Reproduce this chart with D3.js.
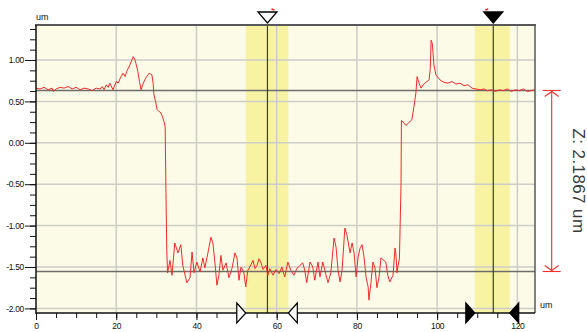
<!DOCTYPE html>
<html><head><meta charset="utf-8">
<script src="https://cdn.jsdelivr.net/npm/d3@7"></script>
<style>
html,body{margin:0;padding:0;background:#fff;}
svg{display:block;font-family:"Liberation Sans",Arial,sans-serif;}
</style></head><body>
<svg id="chart" width="587" height="332"></svg>
<script>
// Height profile along the scan line: [position (um), height (um)]
const profile = [
  [0,0.66],[1,0.65],[2,0.67],[3,0.64],[4,0.66],[4.3,0.62],[5,0.65],[6,0.67],[7,0.66],[8,0.68],
  [9,0.65],[10,0.67],[11,0.64],[12,0.66],[13,0.65],[14,0.63],[15,0.66],[16,0.65],[16.5,0.68],
  [17,0.64],[17.5,0.70],[18,0.67],[18.4,0.72],[19.2,0.64],[20,0.74],[20.5,0.72],[21,0.78],
  [21.7,0.84],[22.2,0.80],[22.6,0.86],[23.4,0.94],[23.9,1.00],[24.2,1.04],[24.6,1.01],[24.9,0.96],
  [25.4,0.86],[25.8,0.74],[26.2,0.64],[26.6,0.70],[27.1,0.76],[27.6,0.80],[28.2,0.84],[28.6,0.83],
  [28.9,0.82],[29.2,0.72],[29.4,0.58],[29.8,0.50],[30.2,0.40],[30.6,0.38],[31.0,0.37],[31.5,0.32],
  [32.0,0.24],[32.2,0.19],[32.4,-0.6],[32.6,-1.3],[32.8,-1.57],[33.4,-1.42],[33.9,-1.60],[34.6,-1.21],
  [35.4,-1.33],[36.1,-1.23],[36.6,-1.48],[37.6,-1.69],[38.4,-1.63],[38.9,-1.32],[39.4,-1.57],
  [40.1,-1.44],[40.9,-1.56],[41.6,-1.39],[42.1,-1.51],[42.9,-1.32],[43.6,-1.14],[44.1,-1.21],
  [44.6,-1.44],[45.1,-1.72],[45.6,-1.60],[46.1,-1.36],[46.6,-1.54],[47.4,-1.45],[48.1,-1.63],
  [48.9,-1.51],[49.6,-1.33],[50.1,-1.39],[50.6,-1.66],[51.1,-1.50],[51.8,-1.56],[52.3,-1.74],
  [52.8,-1.54],[53.3,-1.50],[54.1,-1.42],[54.6,-1.52],[55.1,-1.48],[55.6,-1.40],[56.1,-1.45],
  [56.6,-1.53],[57.3,-1.48],[57.8,-1.60],[58.3,-1.52],[59.1,-1.60],[59.8,-1.53],[60.6,-1.58],
  [61.3,-1.50],[62.0,-1.62],[62.8,-1.44],[63.5,-1.54],[64.3,-1.60],[65.0,-1.52],[65.8,-1.48],
  [66.5,-1.45],[67.0,-1.54],[67.5,-1.69],[68.3,-1.44],[69.0,-1.50],[69.5,-1.66],[70.3,-1.44],
  [70.8,-1.62],[71.5,-1.44],[72.0,-1.54],[72.8,-1.69],[73.5,-1.57],[74.3,-1.15],[74.8,-1.26],
  [75.3,-1.54],[75.8,-1.68],[76.3,-1.54],[77.0,-1.03],[77.5,-1.11],[78.3,-1.33],[78.8,-1.21],
  [79.3,-1.33],[79.8,-1.62],[80.3,-1.38],[80.8,-1.27],[81.3,-1.23],[81.8,-1.39],[82.3,-1.63],
  [82.8,-1.74],[83.0,-1.90],[83.5,-1.69],[84.0,-1.44],[84.5,-1.51],[85.0,-1.75],[85.5,-1.63],
  [86.0,-1.39],[86.7,-1.42],[87.2,-1.44],[87.7,-1.60],[88.2,-1.68],[89.0,-1.60],[89.5,-1.27],
  [89.7,-1.33],[90.0,-1.57],[90.2,-1.50],[90.6,-1.40],[91.0,-0.5],[91.1,0.27],[91.7,0.24],
  [92.2,0.21],[92.9,0.24],[93.7,0.28],[94.2,0.43],[94.7,0.60],[95.0,0.80],[95.5,0.72],[96.0,0.66],
  [96.5,0.70],[97.2,0.73],[98.0,0.76],[98.3,0.90],[98.5,1.24],[98.8,1.20],[99.2,0.94],[99.7,0.82],
  [100.7,0.76],[101.7,0.73],[102.7,0.72],[103.7,0.74],[104.7,0.71],[105.7,0.72],[106.7,0.69],
  [107.7,0.70],[108.7,0.66],[109.7,0.65],[110.7,0.64],[111.7,0.65],[112.5,0.63],[113.5,0.64],
  [114.5,0.62],[115.5,0.64],[116.5,0.63],[117.5,0.65],[118.5,0.62],[119.5,0.64],[120.5,0.63],
  [121.5,0.65],[122.5,0.62],[123.5,0.63],[124.3,0.64]
];

const xMajorTicks = [0, 20, 40, 60, 80, 100, 120];
const yMajorTicks = [1.0, 0.5, 0.0, -0.5, -1.0, -1.5, -2.0];
const xMinorStep = 5;
const yMinorStep = 0.125;

// measurement windows (um) and their cursors
const windowStart = [52.3, 109.4];
const windowEnd   = [62.9, 118.1];
const cursorPos   = [57.7, 114.0];
const cursorFilled = [false, true];

// reference levels and measured step height
const upperLevel = 0.638;
const stepHeight = 2.1867;
const lowerLevel = upperLevel - stepHeight;
const unitLabel = "um";

const L = 36, R = 535, T = 25, B = 313;

const x = d3.scaleLinear().domain([0, 124.4]).range([L, R]);
const y = d3.scaleLinear().domain([-2.0556, 1.4227]).range([B, T]);

const svg = d3.select("#chart");

// plot background
svg.append("rect").attr("x", L).attr("y", T).attr("width", R - L).attr("height", B - T)
  .attr("fill", "#fbfbe7");

// measurement windows
svg.append("g").selectAll("rect").data(windowStart).join("rect")
  .attr("x", (d) => x(d))
  .attr("y", T)
  .attr("width", (d, i) => x(windowEnd[i]) - x(d))
  .attr("height", B - T)
  .attr("fill", "#f8f3a2");

// grid
const grid = svg.append("g").attr("stroke", "#cdcdc8").attr("stroke-width", 1.5);
grid.selectAll("line.v").data(xMajorTicks.filter(d => d > 0)).join("line").attr("class", "v")
  .attr("x1", d => x(d)).attr("x2", d => x(d)).attr("y1", T).attr("y2", B);
grid.selectAll("line.h").data(yMajorTicks).join("line").attr("class", "h")
  .attr("x1", L).attr("x2", R).attr("y1", d => y(d)).attr("y2", d => y(d));

// reference levels
svg.append("g").selectAll("line").data([upperLevel, lowerLevel]).join("line")
  .attr("x1", L).attr("x2", R)
  .attr("y1", d => Math.round(y(d)) + 0.5).attr("y2", d => Math.round(y(d)) + 0.5)
  .attr("stroke", "#6e6e6e").attr("stroke-width", 1.3);

// cursors
svg.append("g").selectAll("line").data(cursorPos).join("line")
  .attr("x1", d => x(d)).attr("x2", d => x(d)).attr("y1", T).attr("y2", B)
  .attr("stroke", "#3c3c3c").attr("stroke-width", 1.2);

// profile
const line = d3.line().x(d => x(d[0])).y(d => y(d[1]));
svg.append("path").datum(profile)
  .attr("d", line)
  .attr("fill", "none")
  .attr("stroke", "#f22a2a")
  .attr("stroke-width", 1)
  .attr("stroke-linejoin", "round");

// axes
const xMinor = d3.range(0, 124, xMinorStep);
const yMinor = d3.range(-2, 1.42, yMinorStep);

const xAxisMinor = d3.axisBottom(x).tickValues(xMinor).tickSize(5).tickFormat("");
const xAxis = d3.axisBottom(x).tickValues(xMajorTicks).tickSize(7).tickPadding(3)
  .tickFormat(d => String(d));
const yAxisMinor = d3.axisLeft(y).tickValues(yMinor).tickSize(6).tickFormat("");
const yAxis = d3.axisLeft(y).tickValues(yMajorTicks).tickSize(11).tickPadding(1)
  .tickFormat(d => d.toFixed(2));

function styleAxis(g) {
  g.select(".domain").remove();
  g.selectAll(".tick line").attr("stroke", "#111");
  g.selectAll(".tick text").attr("fill", "#111").attr("font-size", "8.5px")
    .attr("font-family", "Liberation Sans, Arial, sans-serif").attr("letter-spacing", "-0.3");
}
svg.append("g").attr("transform", `translate(0,${B})`).call(xAxisMinor).call(styleAxis);
svg.append("g").attr("transform", `translate(0,${B})`).call(xAxis).call(styleAxis);
svg.append("g").attr("transform", `translate(${L},0)`).call(yAxisMinor).call(styleAxis);
svg.append("g").attr("transform", `translate(${L},0)`).call(yAxis).call(styleAxis);

// frame
svg.append("line").attr("x1", L - 1).attr("x2", R + 1).attr("y1", T).attr("y2", T)
  .attr("stroke", "#585858").attr("stroke-width", 2);
svg.append("line").attr("x1", R).attr("x2", R).attr("y1", T).attr("y2", B)
  .attr("stroke", "#585858").attr("stroke-width", 1.5);
svg.append("line").attr("x1", L).attr("x2", L).attr("y1", T).attr("y2", B + 1)
  .attr("stroke", "#111").attr("stroke-width", 1.5);
svg.append("line").attr("x1", L).attr("x2", R).attr("y1", B).attr("y2", B)
  .attr("stroke", "#111").attr("stroke-width", 1.5);

// unit labels
svg.append("text").attr("x", L).attr("y", 20).text(unitLabel)
  .attr("font-size", "9px").attr("fill", "#111");
svg.append("text").attr("x", R + 5).attr("y", 308).text(unitLabel)
  .attr("font-size", "9px").attr("fill", "#111");

// cursor markers above the plot
const cursorMarks = svg.append("g");
cursorPos.forEach((c, i) => {
  const cx = x(c);
  cursorMarks.append("path")
    .attr("d", `M${cx - 9.5},12 L${cx + 9.5},12 L${cx},23 Z`)
    .attr("fill", cursorFilled[i] ? "#000" : "#fff")
    .attr("stroke", "#000").attr("stroke-width", 1.3).attr("stroke-linejoin", "miter");
  const mx = cursorFilled[i] ? cx - 8 : cx + 7;
  const dir = cursorFilled[i] ? 1 : -1;
  cursorMarks.append("line").attr("x1", mx).attr("y1", 10).attr("x2", mx + dir * 3).attr("y2", 9)
    .attr("stroke", "#ff2020").attr("stroke-width", 1.5);
});

// window edge markers on the x axis
const edges = svg.append("g");
windowStart.forEach((s, i) => {
  const fill = cursorFilled[i] ? "#000" : "#fff";
  const xs = x(s), xe = x(windowEnd[i]);
  edges.append("path").attr("d", `M${xs - 9},${B - 10} L${xs},${B} L${xs - 9},${B + 10} Z`)
    .attr("fill", fill).attr("stroke", "#000").attr("stroke-width", 1.2);
  edges.append("path").attr("d", `M${xe + 9},${B - 10} L${xe},${B} L${xe + 9},${B + 10} Z`)
    .attr("fill", fill).attr("stroke", "#000").attr("stroke-width", 1.2);
});

// step height annotation
const ax = 551.7;
const yU = Math.round(y(upperLevel)) + 0.5, yL = Math.round(y(lowerLevel)) + 0.5;
const ann = svg.append("g").attr("stroke", "#f03030").attr("stroke-width", 1.1).attr("fill", "none");
ann.append("line").attr("x1", ax).attr("x2", ax).attr("y1", yU).attr("y2", yL);
ann.append("line").attr("x1", ax - 9).attr("x2", ax + 9).attr("y1", yU).attr("y2", yU);
ann.append("line").attr("x1", ax - 9).attr("x2", ax + 9).attr("y1", yL).attr("y2", yL);
ann.append("path").attr("d", `M${ax - 7},${yU + 6} L${ax},${yU + 1} L${ax + 7},${yU + 6}`);
ann.append("path").attr("d", `M${ax - 7},${yL - 6} L${ax},${yL - 1} L${ax + 7},${yL - 6}`);

svg.append("text")
  .attr("transform", `translate(573,${(yU + yL) / 2}) rotate(90)`)
  .attr("text-anchor", "middle")
  .attr("font-size", "17px")
  .attr("letter-spacing", "0.4")
  .attr("fill", "#3a3a3a")
  .text(`Z: ${stepHeight.toFixed(4)} ${unitLabel}`);
</script>
</body></html>
